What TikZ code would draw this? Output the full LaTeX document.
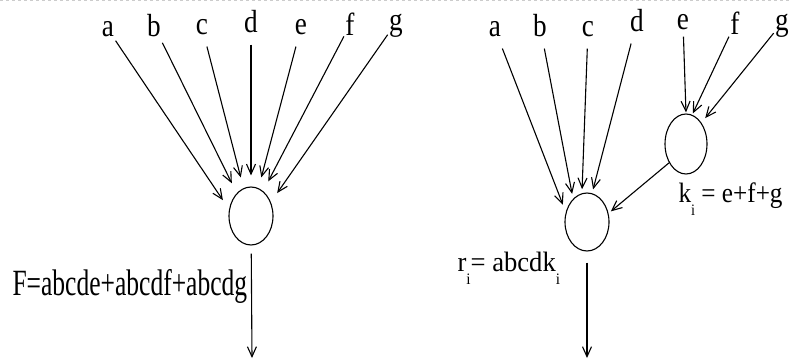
\documentclass[tikz,border=0pt]{standalone}
\usepackage{fontspec}
\setmainfont{Liberation Serif}
\usepackage{graphicx}
\usetikzlibrary{arrows.meta,shapes.geometric}
\newcommand{\narrowtext}[2]{\scalebox{#1}[1]{#2}}
\newcommand{\lowsub}[1]{\raisebox{-0.45em}{\fontsize{16}{16}\selectfont #1}}

\begin{document}
\begin{tikzpicture}[>={Straight Barb[length=10pt,width=9pt]}, line width=1.1pt, x=1pt, y=-1pt,
  var/.style={font=\fontsize{32}{32}\selectfont, inner xsep=1pt, inner ysep=11pt, text depth=0pt, anchor=base},
  gate/.style={draw, ellipse, minimum width=44pt, minimum height=58pt, inner sep=0pt},
  eq/.style={inner sep=0pt, anchor=base west},
  ln/.style={->, shorten >=11pt}]
  \useasboundingbox (0,0) rectangle (792,363);
  \draw[gray!40, dashed, line width=0.6pt] (0,0.6) -- (792,0.6);
  % one gate for the whole function
  \node[gate] (sum) at (251,216) {};
  \node[var] (xa) at (108,37) {\narrowtext{0.85}{a}};
  \node[var] (xb) at (154,37) {\narrowtext{0.85}{b}};
  \node[var] (xc) at (202,35) {\narrowtext{0.85}{c}};
  \node[var] (xd) at (251,33) {\narrowtext{0.85}{d}};
  \node[var] (xe) at (301,35) {\narrowtext{0.85}{e}};
  \node[var] (xf) at (350,36) {\narrowtext{0.85}{f}};
  \node[var] (xg) at (396,31) {\narrowtext{0.85}{g}};
  \draw[ln] (xa) -- (sum.163);
  \draw[ln] (xb) -- (sum.122);
  \draw[ln] (xc) -- (sum.105);
  \draw[ln] (xd) -- (sum.north);
  \draw[ln] (xe) -- (sum.75);
  \draw[ln] (xf) -- (sum.64);
  \draw[ln] (xg) -- (sum.35);
  \coordinate (outF) at (252,358);
  \draw[->, shorten <=8pt] (sum) -- (outF);
  \node[eq, font=\fontsize{37}{37}\selectfont] (fF) at (12,295) {\narrowtext{0.69}{F=abcde+abcdf+abcdg}};
  % e, f and g taken out first
  \node[gate] (prod) at (587,222) {};
  \node[gate, minimum height=60pt, minimum width=42pt] (ki) at (686,144) {};
  \node[var] (ya) at (495,37) {\narrowtext{0.85}{a}};
  \node[var] (yb) at (540,37) {\narrowtext{0.85}{b}};
  \node[var] (yc) at (588,37) {\narrowtext{0.85}{c}};
  \node[var] (yd) at (637,32) {\narrowtext{0.85}{d}};
  \node[var, inner ysep=6pt] (ye) at (683,30) {\narrowtext{0.85}{e}};
  \node[var] (yf) at (735,35) {\narrowtext{0.85}{f}};
  \node[var] (yg) at (782,31) {\narrowtext{0.85}{g}};
  \draw[ln, shorten >=8pt] (ya) -- (prod.155);
  \draw[ln, shorten >=5pt] (yb) -- (prod.121);
  \draw[ln, shorten >=4pt] (yc) -- (prod.100);
  \draw[ln, shorten >=4pt] (yd) -- (prod.80);
  \draw[ln, shorten >=1pt] (ye) -- (ki.north);
  \draw[ln, shorten >=1.5pt] (yf) -- (ki.78);
  \draw[ln, shorten >=6pt] (yg) -- (ki.54);
  \draw[ln, shorten >=3pt] (ki.228) -- (prod.22);
  \coordinate (outR) at (587,358);
  \draw[->, shorten <=11pt] (prod) -- (outR);
  \node[eq, font=\fontsize{28}{28}\selectfont] (fk) at (678,203) {\narrowtext{0.9}{k\lowsub{i} = e+f+g}};
  \node[eq, font=\fontsize{28}{28}\selectfont] (fr) at (457,272) {\narrowtext{0.95}{r\lowsub{i}= abcdk\lowsub{i}}};
\end{tikzpicture}
\end{document}
